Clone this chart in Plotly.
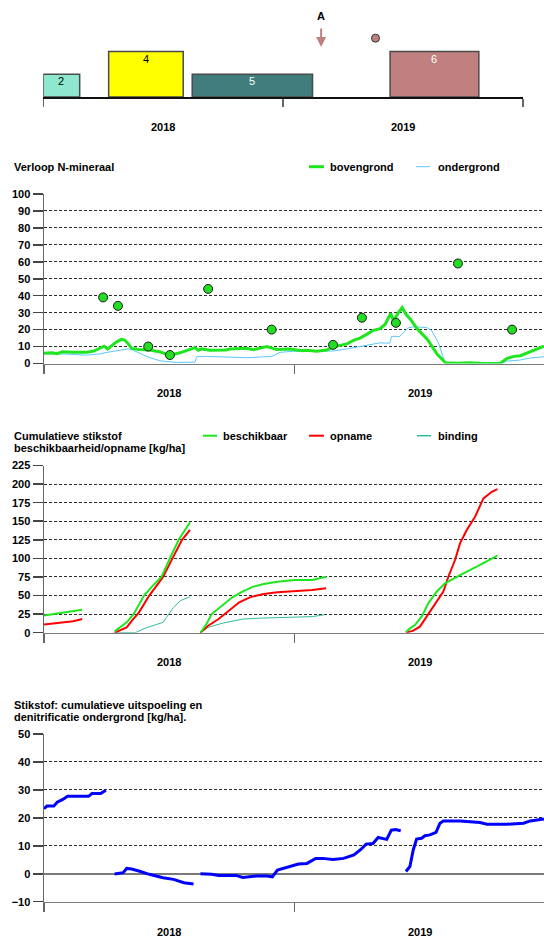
import plotly.graph_objects as go

W, H = 544, 940
FONT = "Liberation Sans"

# ---------------- crop calendar (x in months since 1 Jan 2018) ----------------
crop_labels = ["2", "4", "5", "6"]
crop_start = [0.0, 3.27, 7.45, 17.35]
crop_end = [1.82, 7.0, 13.47, 21.79]
crop_level = [1, 2, 1, 2]
crop_colors = ["#8EE8CE", "#FFFF00", "#427D7D", "#C08080"]
crop_text_colors = ["#000000", "#000000", "#FFFFFF", "#FFFFFF"]

event_label = "A"
event_month = 13.9
dot_month = [16.62]
dot_level = [2.59]

# ---------------- Verloop N-mineraal ----------------
bov_m = [0.0, 0.39, 0.63, 0.88, 1.38, 2.05, 2.38, 2.71, 2.88, 3.04, 3.21, 3.46, 3.71, 3.87,
         4.04, 4.21, 4.54, 5.04, 5.53, 6.03, 6.51, 6.95, 7.23, 7.39, 7.55, 7.95, 8.69, 8.91,
         9.52, 9.71, 10.02, 10.67, 11.14, 11.78, 12.35, 12.58, 13.06, 13.54, 13.84, 14.18,
         14.5, 14.82, 15.13, 15.45, 15.77, 16.09, 16.33, 16.6, 16.73, 16.97, 17.15, 17.33,
         17.55, 17.87, 18.35, 18.83, 19.23, 19.8, 20.4, 21.0, 21.5, 21.85, 22.17, 22.5,
         22.81, 23.13, 23.5, 23.94]
bov_v = [6.0, 6.3, 5.8, 6.9, 6.7, 6.7, 7.3, 8.9, 10.2, 8.5, 10.0, 12.6, 14.2, 13.8,
         11.5, 8.9, 8.3, 7.9, 6.9, 4.9, 6.3, 8.3, 9.4, 7.8, 8.6, 7.8, 8.0, 8.6,
         8.7, 9.0, 8.2, 10.0, 8.2, 8.6, 7.6, 7.8, 7.2, 8.0, 9.8, 10.6,
         11.6, 13.6, 15.0, 17.2, 19.6, 20.6, 23.0, 29.6, 25.2, 30.0, 33.0, 29.0,
         26.0, 20.4, 14.4, 5.4, 0.4, 0.2, 0.4, 0.0, 0.3, 0.2, 3.0, 4.2,
         4.6, 6.2, 7.8, 10.2]

ond_m = [0.0, 1.0, 2.04, 2.68, 3.16, 3.64, 4.04, 4.28, 4.92, 5.55, 6.35, 7.23, 7.31, 7.79,
         8.91, 9.71, 10.91, 11.3, 11.94, 12.9, 13.86, 14.5, 15.13, 15.6, 16.09, 16.56, 16.64,
         17.04, 17.2, 17.44, 17.68, 18.32, 18.56, 18.88, 19.2, 20.5, 21.97, 22.13, 22.77,
         23.25, 23.94]
ond_v = [5.7, 5.6, 4.9, 5.7, 6.9, 7.8, 8.6, 7.8, 4.1, 1.6, 0.6, 0.8, 4.0, 4.2,
         3.8, 3.4, 4.2, 6.6, 7.2, 7.2, 7.4, 8.6, 10.0, 11.4, 12.2, 12.0, 16.0,
         16.0, 18.0, 21.0, 21.6, 21.2, 19.4, 12.4, 0.4, 0.2, 0.2, 1.4, 2.0,
         3.2, 4.0]

meet_m = [2.83, 3.54, 4.99, 6.03, 7.86, 10.90, 13.84, 15.22, 16.85, 19.82, 22.41]
meet_v = [39, 34, 10, 5, 44, 20, 11, 27, 24, 59, 20]

# ---------------- cumulatieve stikstof ----------------
besch_m = [0.0, 0.6, 1.2, 1.83, None,
           3.38, 3.62, 3.96, 4.29, 4.79, 5.2, 5.62, 6.03, 6.45, 6.99, None,
           7.49, 7.78, 8.03, 8.52, 9.02, 9.52, 10.02, 10.52, 11.18, 12.01, 12.84, 13.51, None,
           17.33, 17.52, 17.76, 18.08, 18.4, 18.8, 19.2, 19.92, 20.72, 21.71]
besch_v = [23, 25.5, 28, 31, None,
           1.8, 7.2, 13.9, 25, 50, 63, 75, 100, 125, 148.6, None,
           0, 11.7, 25.1, 36.4, 47.6, 55.7, 62, 65.6, 68.7, 70.9, 70.9, 75.4, None,
           0.9, 5.8, 10.3, 21.5, 39.5, 55.2, 66.4, 77.6, 88.8, 103.6]

opn_m = [0.0, 0.5, 1.0, 1.4, 1.83, None,
         3.38, 3.62, 3.96, 4.2, 4.54, 5.04, 5.7, 6.15, 6.61, 6.99, None,
         7.49, 7.86, 8.36, 8.86, 9.35, 9.85, 10.52, 11.18, 12.01, 12.84, 13.51, None,
         17.33, 17.68, 18.0, 18.32, 18.72, 19.12, 19.36, 19.68, 19.92, 20.24, 20.64, 21.04,
         21.44, 21.71]
opn_v = [11, 12.5, 13.9, 15.5, 18.4, None,
         0, 2.7, 7.2, 16, 27, 50, 75, 100, 125, 138.3, None,
         0, 9.4, 18.4, 29.6, 40.9, 47.6, 52.1, 54.3, 55.7, 57.5, 59.7, None,
         0, 2.7, 8.1, 21.5, 37.2, 55.2, 75.3, 97.8, 120.2, 138.1, 156, 180.7,
         189.7, 193.3]

bind_m = [3.38, 4.37, 4.87, 5.37, 5.7, 5.87, 6.2, 6.53, 6.99, None,
          7.49, 7.86, 8.52, 9.52, 10.52, 12.01, 12.84, 13.43]
bind_v = [0, 0, 6.3, 10.8, 13.9, 20.7, 34.1, 43.1, 48.5, None,
          0, 7.2, 12.6, 18.4, 19.8, 20.7, 21.6, 24.2]

# ---------------- uitspoeling en denitrificatie ----------------
uit_m = [0.0, 0.14, 0.47, 0.63, 0.88, 1.13, 2.13, 2.3, 2.71, 2.96, None,
         3.38, 3.79, 3.96, 4.2, 4.54, 5.04, 5.7, 6.2, 6.7, 7.16, None,
         7.49, 8.03, 8.36, 9.19, 9.52, 10.19, 10.68, 10.93, 11.18, 11.68, 12.18, 12.59,
         13.01, 13.34, 13.84, 14.34, 14.84, 15.17, 15.42, 15.75, 16.0, 16.41, 16.63,
         16.83, 17.08, None,
         17.33, 17.52, 17.68, 17.84, 18.08, 18.24, 18.48, 18.77, 18.96, 19.12, 19.92,
         20.88, 21.2, 22.16, 22.96, 23.28, 23.94]
uit_v = [23.3, 24.2, 24.2, 25.6, 26.5, 27.7, 27.7, 28.7, 28.7, 29.9, None,
         -0.1, 0.4, 1.9, 1.7, 1.0, -0.2, -1.4, -2.0, -3.2, -3.7, None,
         0, -0.2, -0.6, -0.6, -1.3, -0.8, -0.8, -1.1, 1.3, 2.3, 3.5, 3.7,
         5.5, 5.5, 5.1, 5.5, 6.7, 8.7, 10.6, 10.8, 13.0, 12.3, 15.6,
         15.8, 15.4, None,
         0.8, 2.6, 8.6, 12.4, 12.7, 13.6, 13.9, 14.8, 18.1, 18.9, 18.9,
         18.3, 17.7, 17.7, 18.1, 18.9, 19.6]

year_labels = ["2018", "2019"]
year_centres = [6, 18]

GREEN = "#1EE61E"
SKY = "#5CC8FF"
RED = "#FF0000"
TEAL = "#33BB99"
BLUE = "#0000FF"


def fy(p):
    """pixel row -> paper fraction"""
    return 1 - p / H


def fx(p):
    return p / W


fig = go.Figure()

# --- crop calendar ---
crop_mid = [(s + e) / 2 for s, e in zip(crop_start, crop_end)]
fig.add_trace(go.Bar(
    x=crop_mid,
    width=[e - s for s, e in zip(crop_start, crop_end)],
    y=crop_level, base=0,
    marker=dict(color=crop_colors, line=dict(color="#4a4a4a", width=1.5)),
    xaxis="x", yaxis="y"))
fig.add_trace(go.Scatter(
    x=dot_month, y=dot_level, mode="markers",
    marker=dict(size=8, color="#C08080", line=dict(color="#333333", width=1)),
    xaxis="x", yaxis="y"))

# --- N-mineraal ---
fig.add_trace(go.Scatter(x=ond_m, y=ond_v, mode="lines",
                         line=dict(color=SKY, width=1), xaxis="x2", yaxis="y2"))
fig.add_trace(go.Scatter(x=bov_m, y=bov_v, mode="lines",
                         line=dict(color=GREEN, width=3), xaxis="x2", yaxis="y2"))
fig.add_trace(go.Scatter(x=meet_m, y=meet_v, mode="markers",
                         marker=dict(size=9, color="#22DD22", line=dict(color="#1a1a1a", width=1)),
                         xaxis="x2", yaxis="y2"))

# --- cumulatieve stikstof ---
fig.add_trace(go.Scatter(x=bind_m, y=bind_v, mode="lines",
                         line=dict(color=TEAL, width=1), xaxis="x3", yaxis="y3"))
fig.add_trace(go.Scatter(x=opn_m, y=opn_v, mode="lines",
                         line=dict(color=RED, width=2), xaxis="x3", yaxis="y3"))
fig.add_trace(go.Scatter(x=besch_m, y=besch_v, mode="lines",
                         line=dict(color=GREEN, width=2), xaxis="x3", yaxis="y3"))

# --- uitspoeling ---
fig.add_trace(go.Scatter(x=uit_m, y=uit_v, mode="lines",
                         line=dict(color=BLUE, width=3), xaxis="x4", yaxis="y4"))

tickfont = dict(family=FONT, size=11, color="#000000", weight="bold")


def lower_x(anchor):
    return dict(domain=[fx(44), 1], range=[0, 23.94], anchor=anchor,
                showline=True, linecolor="#7a7a7a", linewidth=1.5,
                ticks="outside", tickvals=[0, 12], ticklen=9, tickwidth=1.5,
                tickcolor="#666666", showticklabels=False, showgrid=False,
                zeroline=False, fixedrange=True, automargin=False)


def lower_y(anchor, top_px, bottom_px, lo, hi, step, zero=False):
    return dict(domain=[fy(bottom_px), fy(top_px)], range=[lo, hi], anchor=anchor,
                showline=True, linecolor="#666666", linewidth=1.5,
                ticks="outside", ticklen=10, tickwidth=1.5, tickcolor="#444444",
                tickvals=list(range(lo, hi + 1, step)), tickfont=tickfont,
                showgrid=True, gridcolor="#2a2a2a", gridwidth=1, griddash="3px,2px",
                zeroline=zero, zerolinecolor="#7a7a7a", zerolinewidth=1.5,
                fixedrange=True, automargin=False)


layout = dict(
    width=W, height=H, margin=dict(l=0, r=0, t=0, b=0, pad=0, autoexpand=False),
    paper_bgcolor="white", plot_bgcolor="white", showlegend=False,
    font=dict(family=FONT, size=11, color="#000000"),
    barmode="overlay",
    xaxis=dict(domain=[fx(43.3), fx(523)], range=[0, 24], anchor="y",
               showline=True, linecolor="#111111", linewidth=1.5,
               ticks="outside", tickvals=[0, 12, 24], ticklen=8, tickwidth=1.5,
               tickcolor="#666666", showticklabels=False, showgrid=False,
               zeroline=False, fixedrange=True, automargin=False),
    yaxis=dict(domain=[fy(97), 1], range=[0, 4.27], visible=False, fixedrange=True,
               automargin=False),
    xaxis2=lower_x("y2"),
    yaxis2=lower_y("x2", 194, 363.5, 0, 100, 10),
    xaxis3=lower_x("y3"),
    yaxis3=lower_y("x3", 465.5, 632.7, 0, 225, 25),
    xaxis4=lower_x("y4"),
    yaxis4=lower_y("x4", 734, 901.7, -10, 50, 10, zero=True),
)
fig.update_layout(**layout)

bold = dict(family=FONT, size=11, color="#000000", weight="bold")
ann = []

# crop numbers just inside the top of each block
for lab, mid, lvl, col in zip(crop_labels, crop_mid, crop_level, crop_text_colors):
    ann.append(dict(x=mid, y=lvl, xref="x", yref="y", text=lab, showarrow=False,
                    font=dict(family=FONT, size=11, color=col),
                    xanchor="center", yanchor="top", yshift=1))

# year labels under each time axis
for xref, row in [("x", 126.7), ("x2", 393), ("x3", 662), ("x4", 932)]:
    for lab, c in zip(year_labels, year_centres):
        ann.append(dict(x=c, y=fy(row), xref=xref, yref="paper", text=lab,
                        showarrow=False, font=bold, xanchor="center", yanchor="middle"))

# event marker
ann.append(dict(x=event_month, y=2.2, xref="x", yref="y", ax=0, ay=-20, text="",
                showarrow=True, arrowhead=2, arrowsize=1, arrowwidth=2, arrowcolor="#C08080"))
ann.append(dict(x=event_month, y=fy(15.7), xref="x", yref="paper", text=event_label,
                showarrow=False, font=bold, xanchor="center", yanchor="middle"))

# panel titles
for text, row in [("Verloop N-mineraal", 166.7),
                  ("Cumulatieve stikstof", 435.7),
                  ("beschikbaarheid/opname [kg/ha]", 448.3),
                  ("Stikstof: cumulatieve uitspoeling en", 705),
                  ("denitrificatie ondergrond [kg/ha].", 716.7)]:
    ann.append(dict(x=fx(12), y=fy(row), xref="paper", yref="paper", text=text,
                    showarrow=False, font=bold, xanchor="left", yanchor="middle"))

# legend entries: (label, colour, width, swatch x0, swatch x1, text x, row)
legend_items = [
    ("bovengrond", GREEN, 3, 309, 324, 328, 166.7),
    ("ondergrond", SKY, 1, 416, 430, 436, 166.7),
    ("beschikbaar", GREEN, 2, 203, 217, 221, 435.7),
    ("opname", RED, 2, 309, 324, 328, 435.7),
    ("binding", TEAL, 1.5, 417, 431, 436, 435.7),
]
shapes = []
for lab, col, wid, x0, x1, tx, row in legend_items:
    shapes.append(dict(type="line", xref="paper", yref="paper",
                       x0=fx(x0), x1=fx(x1), y0=fy(row), y1=fy(row),
                       line=dict(color=col, width=wid)))
    ann.append(dict(x=fx(tx), y=fy(row), xref="paper", yref="paper", text=lab,
                    showarrow=False, font=bold, xanchor="left", yanchor="middle"))

fig.update_layout(annotations=ann, shapes=shapes)

fig.write_html("out.html", config={"displayModeBar": False, "staticPlot": True})
